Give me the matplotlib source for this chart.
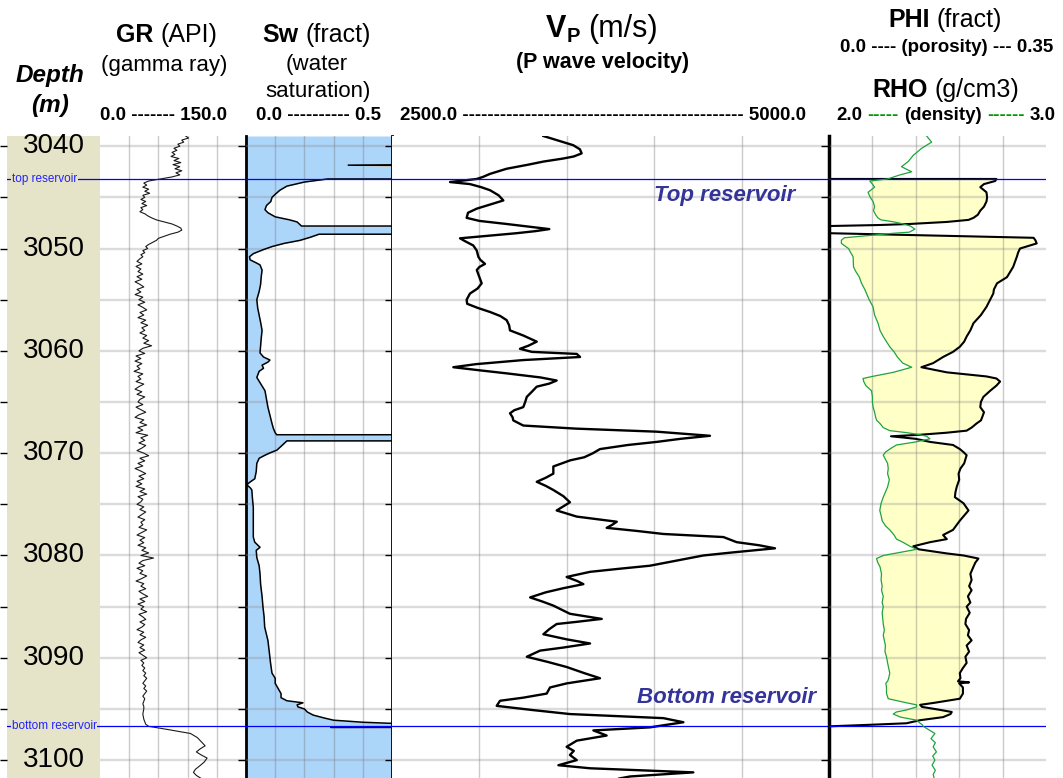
import numpy as np
import matplotlib
matplotlib.use("Agg")
import matplotlib.pyplot as plt

plt.rcParams['font.family'] = ['Liberation Sans', 'DejaVu Sans']

top_res = 3043.2
bottom_res = 3096.7
depth_top = 3039.0
depth_bottom = 3101.75

# gamma ray (API)
gr_top = [88, 91, 84, 86, 80, 82, 76, 79, 74, 77,
          73, 81, 76, 83, 75, 82, 77, 84, 78, 82,
          74, 62, 50, 45, 48, 44, 50, 46, 51, 44,
          46, 42, 47, 43, 48, 42, 44, 41, 46, 49,
          53, 58, 66, 74, 79, 83, 84, 80, 72, 66,
          60, 58, 54, 50, 47, 49, 44, 46, 42, 44]
gr_mid = [41, 38, 43, 37, 42, 39, 44, 38,
          43, 36, 41, 45, 38, 42, 36, 44,
          40, 46, 39, 44, 48, 41, 45, 39,
          47, 42, 49, 43, 46, 41, 48, 44,
          50, 45, 53, 44, 40, 46, 37, 42,
          36, 43, 38, 41, 35, 44, 39, 42,
          37, 45, 40, 36, 43, 38, 46, 41,
          39, 44, 37, 42, 47, 40, 36, 45,
          41, 48, 39, 44, 37, 49, 42, 46,
          40, 47, 43, 38, 45, 50, 41, 46,
          39, 44, 36, 42, 47, 40, 45, 38,
          43, 37, 46, 41, 48, 39, 44, 42,
          38, 45, 41, 47, 43, 39, 46, 42,
          44, 40, 48, 43, 38, 46, 41, 45,
          39, 47, 43, 50, 42, 55, 44, 40,
          46, 38, 44, 41, 48, 43, 37, 45,
          42, 47, 40, 44, 49, 41, 46, 39,
          45, 42, 48, 40, 44, 47, 41, 46,
          43, 38, 45, 41, 47, 42, 39, 45,
          41, 46, 40, 44, 48, 42, 45, 43,
          46, 44, 47, 45, 48, 46, 44, 47,
          45, 48, 46, 44, 46, 45, 44, 45]
gr_bot_depth = [3095.0, 3095.5, 3096.0, 3096.5, 3096.7, 3097.0, 3097.4, 3097.8,
                3098.2, 3098.6, 3098.9, 3099.2, 3099.5, 3099.8, 3100.2, 3100.6,
                3100.9, 3101.2, 3101.5, 3101.8]
gr_bot = [45, 44, 45, 47, 50, 69, 93, 100, 104, 108, 103, 99, 104, 110, 107,
          102, 98, 96, 99, 104]

# water saturation (fract)
sw_depth = [3039.0, 3041.7, 3041.85, 3042.0, 3043.2, 3043.2, 3043.5, 3043.9, 3044.3,
            3044.7, 3045.0, 3045.4, 3045.8, 3046.2, 3046.5, 3046.9, 3047.2, 3047.4,
            3047.8, 3047.8, 3048.6, 3048.6, 3048.9, 3049.2, 3049.5, 3049.8, 3050.1,
            3050.5, 3050.8, 3051.1, 3051.4, 3051.6, 3052.1, 3052.8, 3053.5, 3054.2,
            3055.0, 3055.8, 3056.5, 3057.2, 3058.0, 3058.8, 3059.5, 3060.2, 3060.6,
            3060.9, 3061.1, 3061.4, 3061.7, 3062.0, 3062.6, 3063.2, 3063.9, 3064.7,
            3065.5, 3066.3, 3067.1, 3067.6, 3068.0, 3068.2, 3068.2, 3068.8, 3068.8,
            3069.2, 3069.7, 3070.0, 3070.2, 3070.5, 3071.0, 3071.8, 3072.5, 3072.9,
            3073.1, 3073.4, 3073.6, 3074.4, 3075.3, 3076.3, 3077.2, 3078.2, 3078.7,
            3079.2, 3079.5, 3080.2, 3081.0, 3081.8, 3082.8, 3084.0, 3085.0, 3086.0,
            3087.0, 3088.3, 3089.5, 3090.5, 3091.5, 3092.0, 3092.5, 3093.0, 3093.5,
            3093.9, 3094.2, 3094.4, 3094.6, 3094.8, 3095.0, 3095.3, 3095.6, 3095.9,
            3096.1, 3096.3, 3096.4, 3096.45, 3096.75, 3096.8, 3096.85, 3101.75]
sw = [1.0, 1.0, 0.35, 1.0, 1.0, 0.28, 0.20, 0.14, 0.116,
      0.10, 0.089, 0.085, 0.07, 0.065, 0.075, 0.10, 0.15, 0.175,
      0.19, 1.0, 1.0, 0.25, 0.22, 0.185, 0.13, 0.09, 0.06,
      0.025, 0.012, 0.014, 0.035, 0.048, 0.055, 0.052, 0.05, 0.045,
      0.037, 0.04, 0.045, 0.05, 0.055, 0.052, 0.05, 0.048, 0.06,
      0.082, 0.075, 0.055, 0.06, 0.045, 0.037, 0.05, 0.065, 0.07,
      0.075, 0.082, 0.089, 0.094, 0.10, 0.105, 1.0, 1.0, 0.14,
      0.125, 0.106, 0.08, 0.065, 0.045, 0.037, 0.035, 0.03, 0.01,
      0.003, 0.015, 0.02, 0.022, 0.025, 0.025, 0.025, 0.025, 0.03,
      0.048, 0.035, 0.037, 0.045, 0.048, 0.05, 0.055, 0.058, 0.062,
      0.064, 0.075, 0.08, 0.084, 0.089, 0.10, 0.10, 0.11, 0.12,
      0.12, 0.14, 0.195, 0.175, 0.178, 0.20, 0.21, 0.23, 0.27,
      0.30, 0.40, 0.49, 1.0, 1.0, 0.29, 1.0, 1.0]

# P wave velocity (m/s)
vp_depth = [3039.0, 3039.5, 3039.9, 3040.3, 3040.7, 3041.0, 3041.2, 3041.5, 3041.8,
            3042.2, 3042.7, 3043.0, 3043.2, 3043.5, 3043.7, 3044.0, 3044.3, 3044.8,
            3045.3, 3045.7, 3046.1, 3046.5, 3047.0, 3047.3, 3047.6, 3048.1, 3048.3,
            3048.5, 3049.0, 3049.3, 3049.7, 3050.2, 3050.8, 3051.1, 3051.5, 3051.8,
            3052.1, 3052.8, 3053.4, 3053.9, 3054.4, 3055.0, 3055.4, 3055.8, 3056.2,
            3056.6, 3057.0, 3057.5, 3058.0, 3058.5, 3059.1, 3059.5, 3059.8, 3060.1,
            3060.3, 3060.6, 3060.9, 3061.3, 3061.6, 3061.9, 3062.2, 3062.6, 3062.9,
            3063.2, 3063.5, 3064.0, 3064.5, 3065.0, 3065.5, 3065.8, 3066.1, 3066.5,
            3066.8, 3067.3, 3067.6, 3067.9, 3068.3, 3068.6, 3068.9, 3069.2, 3069.6,
            3070.0, 3070.4, 3070.7, 3071.3, 3072.0, 3072.4, 3072.8, 3073.2, 3073.6,
            3074.2, 3074.8, 3075.2, 3075.6, 3075.9, 3076.2, 3076.7, 3077.0, 3077.3,
            3077.6, 3077.9, 3078.2, 3078.7, 3079.0, 3079.3, 3079.7, 3080.0, 3080.5,
            3081.0, 3081.3, 3081.6, 3082.1, 3082.5, 3082.8, 3083.2, 3083.6, 3084.1,
            3084.5, 3084.9, 3085.3, 3085.7, 3086.2, 3086.5, 3086.7, 3087.2, 3087.7,
            3088.2, 3088.6, 3089.0, 3089.3, 3089.9, 3090.4, 3090.9, 3091.5, 3092.0,
            3092.5, 3092.9, 3093.5, 3093.9, 3094.2, 3094.7, 3095.1, 3095.5, 3095.9,
            3096.3, 3096.8, 3097.1, 3097.6, 3098.1, 3098.7, 3099.1, 3099.5, 3100.0,
            3100.5, 3100.8, 3101.2, 3101.6, 3101.8]
vp = [3366, 3460, 3537, 3575, 3585, 3540, 3480, 3366, 3280,
      3156, 3061, 3020, 2985, 2832, 2946, 3010, 3061, 3110,
      3137, 3060, 2985, 2935, 2927, 3000, 3156, 3400, 3320,
      3213, 2889, 2920, 2965, 2985, 2994, 3005, 3032, 3000,
      2985, 3000, 3013, 2990, 2946, 2927, 2930, 2990, 3061,
      3120, 3156, 3170, 3175, 3251, 3328, 3280, 3232, 3300,
      3557, 3576, 3251, 2980, 2851, 3000, 3156, 3350, 3442,
      3400, 3328, 3300, 3271, 3262, 3251, 3200, 3175, 3190,
      3194, 3251, 3550, 4014, 4319, 4150, 4014, 3850, 3690,
      3650, 3600, 3520, 3423, 3423, 3380, 3328, 3380, 3423,
      3480, 3518, 3480, 3442, 3500, 3557, 3786, 3760, 3728,
      3900, 4053, 4396, 4472, 4600, 4691, 4450, 4281, 4128,
      3976, 3800, 3633, 3499, 3560, 3595, 3480, 3380, 3290,
      3360, 3423, 3470, 3518, 3700, 3550, 3442, 3400, 3366,
      3500, 3633, 3480, 3347, 3271, 3390, 3499, 3600, 3690,
      3500, 3404, 3385, 3250, 3118, 3099, 3300, 3518, 4053,
      4167, 3976, 3652, 3728, 3557, 3499, 3540, 3518, 3557,
      3452, 3633, 4224, 3862, 3800]

# porosity (fract) and bulk density (g/cm3) on a shared depth list
pr_depth = [3039.0, 3039.6, 3040.2, 3040.9, 3041.5, 3042.0, 3042.5, 3042.8, 3043.2,
            3043.2, 3043.4, 3043.7, 3044.0, 3044.5, 3045.0, 3045.4, 3045.9, 3046.3,
            3046.7, 3047.0, 3047.2, 3047.4, 3047.6, 3047.7, 3047.8, 3048.1, 3048.4,
            3048.5, 3048.7, 3048.95, 3049.2, 3049.5, 3050.0, 3050.4, 3050.8, 3051.3,
            3051.8, 3052.3, 3052.8, 3053.4, 3054.0, 3054.4, 3055.0, 3055.7, 3056.5,
            3057.3, 3058.0, 3058.6, 3059.1, 3059.6, 3060.1, 3060.6, 3061.2, 3061.6,
            3062.1, 3062.5, 3062.7, 3063.0, 3063.4, 3063.9, 3064.5, 3065.0, 3065.5,
            3066.0, 3066.5, 3066.8, 3067.1, 3067.5, 3067.8, 3068.0, 3068.2, 3068.35,
            3068.6, 3068.9, 3069.2, 3069.6, 3069.9, 3070.2, 3070.6, 3071.0, 3071.5,
            3072.0, 3072.6, 3073.3, 3073.8, 3074.3, 3074.9, 3075.6, 3076.1, 3076.6,
            3077.1, 3077.5, 3078.0, 3078.4, 3078.7, 3079.1, 3079.4, 3079.8, 3080.0,
            3080.3, 3080.7, 3081.1, 3081.8, 3082.4, 3083.0, 3083.4, 3084.0, 3084.6,
            3085.0, 3085.6, 3086.2, 3086.7, 3087.3, 3087.8, 3088.3, 3088.8, 3089.4,
            3089.9, 3090.5, 3091.0, 3091.5, 3092.0, 3092.3, 3092.4, 3092.5, 3092.9,
            3093.5, 3094.0, 3094.4, 3094.6, 3094.8, 3095.1, 3095.3, 3095.5, 3095.8,
            3096.1, 3096.4, 3096.55, 3096.7, 3097.4, 3097.9, 3098.3, 3098.7, 3099.2,
            3099.6, 3100.0, 3100.5, 3101.0, 3101.4, 3101.8]
phi = [0, 0, 0, 0, 0, 0, 0, 0, 0,
       0.27, 0.268, 0.25, 0.244, 0.254, 0.255, 0.254, 0.25, 0.244,
       0.24, 0.233, 0.225, 0.19, 0.13, 0.082, 0, 0, 0,
       0, 0.15, 0.33, 0.333, 0.335, 0.308, 0.305, 0.303, 0.30,
       0.297, 0.292, 0.287, 0.271, 0.266, 0.265, 0.26, 0.254, 0.245,
       0.233, 0.228, 0.222, 0.218, 0.211, 0.20, 0.184, 0.168, 0.149,
       0.19, 0.254, 0.27, 0.276, 0.27, 0.26, 0.249, 0.245, 0.244,
       0.25, 0.247, 0.245, 0.238, 0.23, 0.222, 0.19, 0.147, 0.10,
       0.14, 0.163, 0.20, 0.211, 0.217, 0.222, 0.22, 0.218, 0.212,
       0.209, 0.21, 0.206, 0.204, 0.203, 0.217, 0.225, 0.218, 0.211,
       0.205, 0.20, 0.184, 0.19, 0.163, 0.136, 0.145, 0.19, 0.217,
       0.241, 0.236, 0.233, 0.228, 0.23, 0.226, 0.23, 0.224, 0.228,
       0.222, 0.227, 0.221, 0.22, 0.226, 0.224, 0.23, 0.222, 0.226,
       0.22, 0.222, 0.216, 0.211, 0.212, 0.208, 0.226, 0.21, 0.216,
       0.216, 0.211, 0.17, 0.147, 0.15, 0.18, 0.198, 0.196, 0.184,
       0.147, 0.125, 0.066, 0, 0, 0, 0, 0, 0,
       0, 0, 0, 0, 0, 0]
rho = [2.45, 2.473, 2.427, 2.388, 2.365, 2.334, 2.381, 2.327, 2.27,
       2.27, 2.188, 2.20, 2.21, 2.18, 2.19, 2.203, 2.21, 2.205,
       2.215, 2.225, 2.24, 2.30, 2.342, 2.36, 2.375, 2.396, 2.37,
       2.30, 2.20, 2.07, 2.057, 2.057, 2.09, 2.10, 2.111, 2.112,
       2.113, 2.125, 2.14, 2.15, 2.165, 2.173, 2.185, 2.203, 2.21,
       2.226, 2.235, 2.25, 2.265, 2.28, 2.30, 2.315, 2.34, 2.381,
       2.296, 2.20, 2.157, 2.16, 2.17, 2.196, 2.20, 2.20, 2.203,
       2.21, 2.215, 2.22, 2.235, 2.25, 2.28, 2.36, 2.42, 2.45,
       2.465, 2.40, 2.311, 2.28, 2.26, 2.25, 2.26, 2.27, 2.273,
       2.27, 2.278, 2.27, 2.26, 2.25, 2.24, 2.234, 2.24, 2.245,
       2.26, 2.28, 2.30, 2.311, 2.34, 2.373, 2.404, 2.30, 2.25,
       2.219, 2.225, 2.235, 2.242, 2.24, 2.245, 2.242, 2.25, 2.245,
       2.25, 2.245, 2.248, 2.25, 2.255, 2.25, 2.255, 2.26, 2.258,
       2.265, 2.27, 2.275, 2.28, 2.275, 2.27, 2.265, 2.262, 2.265,
       2.265, 2.273, 2.357, 2.404, 2.404, 2.357, 2.31, 2.296, 2.33,
       2.404, 2.42, 2.43, 2.434, 2.488, 2.47, 2.49, 2.48, 2.495,
       2.478, 2.488, 2.475, 2.49, 2.48, 2.485]

gr_lim = (0.0, 150.0)
sw_lim = (0.0, 0.5)
vp_lim = (2500.0, 5000.0)
phi_lim = (0.0, 0.35)
rho_lim = (2.0, 3.0)
depth_labels = [3040, 3050, 3060, 3070, 3080, 3090, 3100]

# ---- figure ----
W, H = 1063, 778
fig = plt.figure(figsize=(W / 100, H / 100), dpi=100)
KHAKI = '#e6e4c8'
BLUE_FILL = '#acd5fa'
YELLOW = '#ffffc8'
RES_BLUE = '#0000ff'


def px_axes(x0, x1, y0=136, y1=778):
    return fig.add_axes([x0 / W, 1 - y1 / H, (x1 - x0) / W, (y1 - y0) / H])


def setup_track(ax, xlim, ngrid=5):
    ax.set_xlim(xlim)
    ax.set_ylim(depth_bottom, depth_top)
    step = (xlim[1] - xlim[0]) / ngrid
    ax.set_xticks([xlim[0] + step * i for i in range(1, ngrid)])
    ax.set_yticks(np.arange(3040, 3101, 5))
    ax.set_axisbelow(False)
    ax.xaxis.grid(True, color='#777777', alpha=0.38, lw=1.0)
    ax.yaxis.grid(True, color='#888888', alpha=0.3, lw=1.7)
    ax.tick_params(labelbottom=False, labelleft=False, bottom=False, left=False)
    for sp in ax.spines.values():
        sp.set_visible(False)
    ax.axhline(top_res, color=RES_BLUE, lw=0.9, zorder=4)
    ax.axhline(bottom_res, color=RES_BLUE, lw=0.9, zorder=4)


# depth track
ax_d = px_axes(7, 100)
ax_d.set_facecolor(KHAKI)
ax_d.set_xlim(0, 1)
ax_d.set_ylim(depth_bottom, depth_top)
ax_d.set_xticks([])
ax_d.set_yticks(np.arange(3040, 3101, 5))
ax_d.tick_params(labelleft=False, left=True, right=True, direction='out', length=5, width=1)
for sp in ax_d.spines.values():
    sp.set_visible(False)
for d in depth_labels:
    ax_d.text(0.5, d, str(d), fontsize=20, ha='center', va='center')
ax_d.axhline(top_res, color=RES_BLUE, lw=0.9)
ax_d.axhline(bottom_res, color=RES_BLUE, lw=0.9)
for d, lab in [(top_res, 'top reservoir'), (bottom_res, 'bottom reservoir')]:
    ax_d.text(0.05, d, lab, fontsize=8.5, color='#2222ff', ha='left', va='center',
              bbox=dict(fc=KHAKI, ec='none', pad=0.6), clip_on=True, zorder=5)

# GR track
ax_gr = px_axes(100, 246)
setup_track(ax_gr, gr_lim)
gr_depth = np.concatenate([3039.0 + 0.2 * np.arange(len(gr_top)),
                           3051.0 + 0.25 * np.arange(len(gr_mid)),
                           gr_bot_depth])
gr = np.concatenate([gr_top, gr_mid, gr_bot])
ax_gr.plot(gr, gr_depth, color='#1a1a1a', lw=0.8, zorder=3)
ax_gr.tick_params(right=True, direction='in', length=6, width=1)

# Sw track
ax_sw = px_axes(246, 392)
setup_track(ax_sw, sw_lim)
ax_sw.fill_betweenx(sw_depth, sw_lim[0], np.minimum(sw, sw_lim[1]),
                    color=BLUE_FILL, lw=0, zorder=1)
ax_sw.plot(sw, sw_depth, color='black', lw=1.1, zorder=3)
for side in ['left', 'right']:
    ax_sw.spines[side].set_visible(True)
    ax_sw.spines[side].set_linewidth(2)
ax_sw.tick_params(right=True, direction='inout', length=10, width=1)

# Vp track
ax_vp = px_axes(392, 829)
setup_track(ax_vp, vp_lim)
ax_vp.plot(vp, vp_depth, color='black', lw=1.7, zorder=3, solid_joinstyle='round')
ax_vp.tick_params(right=True, direction='inout', length=12, width=1)
ax_vp.text(4000, 3044.8, 'Top reservoir', fontsize=16, fontweight='bold',
           fontstyle='italic', color='#333399', va='center', ha='left', zorder=5)
ax_vp.text(3900, 3093.85, 'Bottom reservoir', fontsize=16, fontweight='bold',
           fontstyle='italic', color='#333399', va='center', ha='left', zorder=5)

# PHI / RHO track
ax_p = px_axes(829, 1046)
setup_track(ax_p, phi_lim)
ax_p.spines['left'].set_visible(True)
ax_p.spines['left'].set_linewidth(2.5)
phi_a = np.array(phi)
rho_on_phi = phi_lim[0] + (np.array(rho) - rho_lim[0]) / (rho_lim[1] - rho_lim[0]) * (phi_lim[1] - phi_lim[0])
ax_p.fill_betweenx(pr_depth, rho_on_phi, phi_a, where=phi_a >= rho_on_phi,
                   interpolate=True, color=YELLOW, lw=0, zorder=1)
ax_p.plot(phi_a, pr_depth, color='black', lw=1.5, zorder=3)
ax_r = ax_p.twiny()
ax_r.set_xlim(rho_lim)
ax_r.set_ylim(depth_bottom, depth_top)
ax_r.axis('off')
ax_r.plot(rho, pr_depth, color='#1fa33f', lw=0.9, zorder=3)

# ---- headers ----
renderer = fig.canvas.get_renderer()


def rich_line(xc, y_base, pieces):
    # pieces: (text, size, weight, color, dy); blank text = word gap
    parts = []
    total = 0.0
    for s, size, weight, color, dy in pieces:
        if s.strip() == '':
            w = 0.278 * size * 100 / 72 * len(s)
            parts.append((None, w, dy))
        else:
            t = fig.text(0, 0, s, fontsize=size, fontweight=weight, color=color,
                         ha='left', va='baseline')
            w = t.get_window_extent(renderer=renderer).width
            parts.append((t, w, dy))
        total += w
    x = xc - total / 2
    for t, w, dy in parts:
        if t is not None:
            t.set_position((x / W, 1 - (y_base + dy) / H))
        x += w


TS, SS, KS = 18, 16, 13.5
fig.text(50 / W, 1 - 82 / H, 'Depth', fontsize=17.5, fontweight='bold', fontstyle='italic',
         ha='center', va='baseline')
fig.text(50 / W, 1 - 112 / H, '(m)', fontsize=17.5, fontweight='bold', fontstyle='italic',
         ha='center', va='baseline')

rich_line(167, 42, [('GR', TS, 'bold', 'k', 0), (' ', TS, 'normal', 'k', 0),
                    ('(API)', TS, 'normal', 'k', 0)])
rich_line(164, 71, [('(gamma ray)', SS, 'normal', 'k', 0)])
rich_line(164, 120, [('0.0 ------- 150.0', KS, 'bold', 'k', 0)])

rich_line(317, 42, [('Sw', TS, 'bold', 'k', 0), (' ', TS, 'normal', 'k', 0),
                    ('(fract)', TS, 'normal', 'k', 0)])
rich_line(317, 70, [('(water', SS, 'normal', 'k', 0)])
rich_line(318, 97, [('saturation)', SS, 'normal', 'k', 0)])
rich_line(318, 120, [('0.0 ---------- 0.5', KS, 'bold', 'k', 0)])

rich_line(602, 37, [('V', 22, 'bold', 'k', 0), ('P', 14.5, 'bold', 'k', 5),
                    (' ', 22, 'normal', 'k', 0), ('(m/s)', 22, 'normal', 'k', 0)])
rich_line(603, 68, [('(P wave velocity)', 15.5, 'bold', 'k', 0)])
rich_line(603, 120, [('2500.0 ' + '-' * 45 + ' 5000.0', KS, 'bold', 'k', 0)])

rich_line(945, 27, [('PHI', TS, 'bold', 'k', 0), (' ', TS, 'normal', 'k', 0),
                    ('(fract)', TS, 'normal', 'k', 0)])
rich_line(947, 52, [('0.0 ---- (porosity) --- 0.35', KS, 'bold', 'k', 0)])
rich_line(946, 97, [('RHO', TS, 'bold', 'k', 0), (' ', TS, 'normal', 'k', 0),
                    ('(g/cm3)', TS, 'normal', 'k', 0)])
GREEN = '#009900'
rich_line(946, 120, [('2.0', KS, 'bold', 'k', 0), (' ', KS, 'bold', 'k', 0),
                     ('-----', KS, 'bold', GREEN, 0), (' ', KS, 'bold', 'k', 0),
                     ('(density)', KS, 'bold', 'k', 0), (' ', KS, 'bold', 'k', 0),
                     ('------', KS, 'bold', GREEN, 0), (' ', KS, 'bold', 'k', 0),
                     ('3.0', KS, 'bold', 'k', 0)])

fig.savefig('out.png', dpi=100)
